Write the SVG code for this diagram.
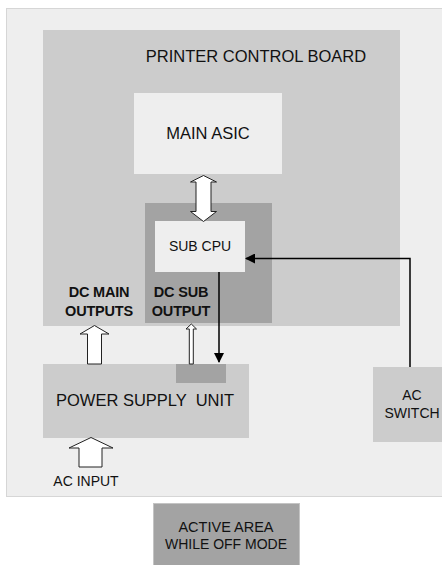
<svg xmlns="http://www.w3.org/2000/svg" width="442" height="565" viewBox="0 0 442 565">
<defs>
<style>
text{font-family:"Liberation Sans",Arial,sans-serif;fill:#111;}
.light{fill:#eeeeee;}
.mid{fill:#cccccc;}
.dark{fill:#a3a3a3;}
.hollow{fill:#ffffff;stroke:#222;stroke-width:1;}
.line{fill:none;stroke:#000;stroke-width:1.5;}
.bold{font-weight:bold;font-size:14.5px;letter-spacing:-0.2px;}
</style>
<marker id="ah" markerWidth="10" markerHeight="10" refX="9" refY="5" orient="auto" markerUnits="userSpaceOnUse"><path d="M0,0 L10,5 L0,10 Z" fill="#000"/></marker>
</defs>
<rect width="442" height="565" fill="#ffffff"/>
<g id="outer-area">
<rect x="6.5" y="8.5" width="440" height="488" class="light" stroke="#d6d6d6" stroke-width="1"/>
</g>
<g id="printer-control-board">
<rect x="43" y="30" width="357" height="296" class="mid"/>
<text x="256" y="62" font-size="16.5" text-anchor="middle">PRINTER CONTROL BOARD</text>
</g>
<g id="main-asic">
<rect x="134" y="93" width="148" height="81" class="light"/>
<text x="208" y="139" font-size="16.5" text-anchor="middle">MAIN ASIC</text>
</g>
<g id="dc-sub-area">
<rect x="145" y="203" width="127" height="120" class="dark"/>
</g>
<g id="sub-cpu">
<rect x="155" y="221" width="90" height="51" class="light"/>
<text x="200" y="251" font-size="14" text-anchor="middle">SUB CPU</text>
</g>
<g id="dc-main-label">
<text x="99" y="297" text-anchor="middle" class="bold">DC MAIN</text>
<text x="99" y="316" text-anchor="middle" class="bold">OUTPUTS</text>
</g>
<g id="dc-sub-label">
<text x="181" y="297" text-anchor="middle" class="bold">DC SUB</text>
<text x="181" y="316" text-anchor="middle" class="bold">OUTPUT</text>
</g>
<g id="power-supply-unit">
<rect x="43" y="364" width="206" height="74" class="mid"/>
<rect x="176" y="364" width="50" height="19" class="dark"/>
<text x="56" y="406" font-size="16.5" style="white-space:pre">POWER SUPPLY  UNIT</text>
</g>
<g id="ac-switch">
<rect x="373" y="367" width="72" height="75" class="mid"/>
<text x="412" y="400" font-size="14" text-anchor="middle">AC</text>
<text x="412" y="418" font-size="14" text-anchor="middle">SWITCH</text>
</g>
<g id="ac-input-label">
<text x="86" y="486" font-size="14" text-anchor="middle">AC INPUT</text>
</g>
<g id="legend">
<rect x="153.5" y="503.5" width="146" height="64" class="dark" stroke="#c4c4c4" stroke-width="1"/>
<text x="226" y="532" font-size="14.5" text-anchor="middle">ACTIVE AREA</text>
<text x="226" y="549" font-size="14" text-anchor="middle">WHILE OFF MODE</text>
</g>
<g id="connectors">
<path class="hollow" d="M203.5,175.5 L216.5,182 L211,182 L211,211.5 L216.5,211.5 L203.5,221.5 L190.5,211.5 L196,211.5 L196,182 L190.5,182 Z"/>
<path class="hollow" d="M94.5,325.5 L109,334 L101.5,334 L101.5,364 L87.5,364 L87.5,334 L80,334 Z"/>
<path class="hollow" d="M191.3,324 L196.5,329 L193.3,329 L193.3,364 L189.3,364 L189.3,329 L186,329 Z"/>
<path class="hollow" d="M91,437.5 L113,448 L102,448 L102,467 L79,467 L79,448 L69,448 Z"/>
<path class="line" d="M219,272 L219,362" marker-end="url(#ah)"/>
<path class="line" d="M410,367 L410,258.5 L246,258.5" marker-end="url(#ah)"/>
</g>
</svg>
